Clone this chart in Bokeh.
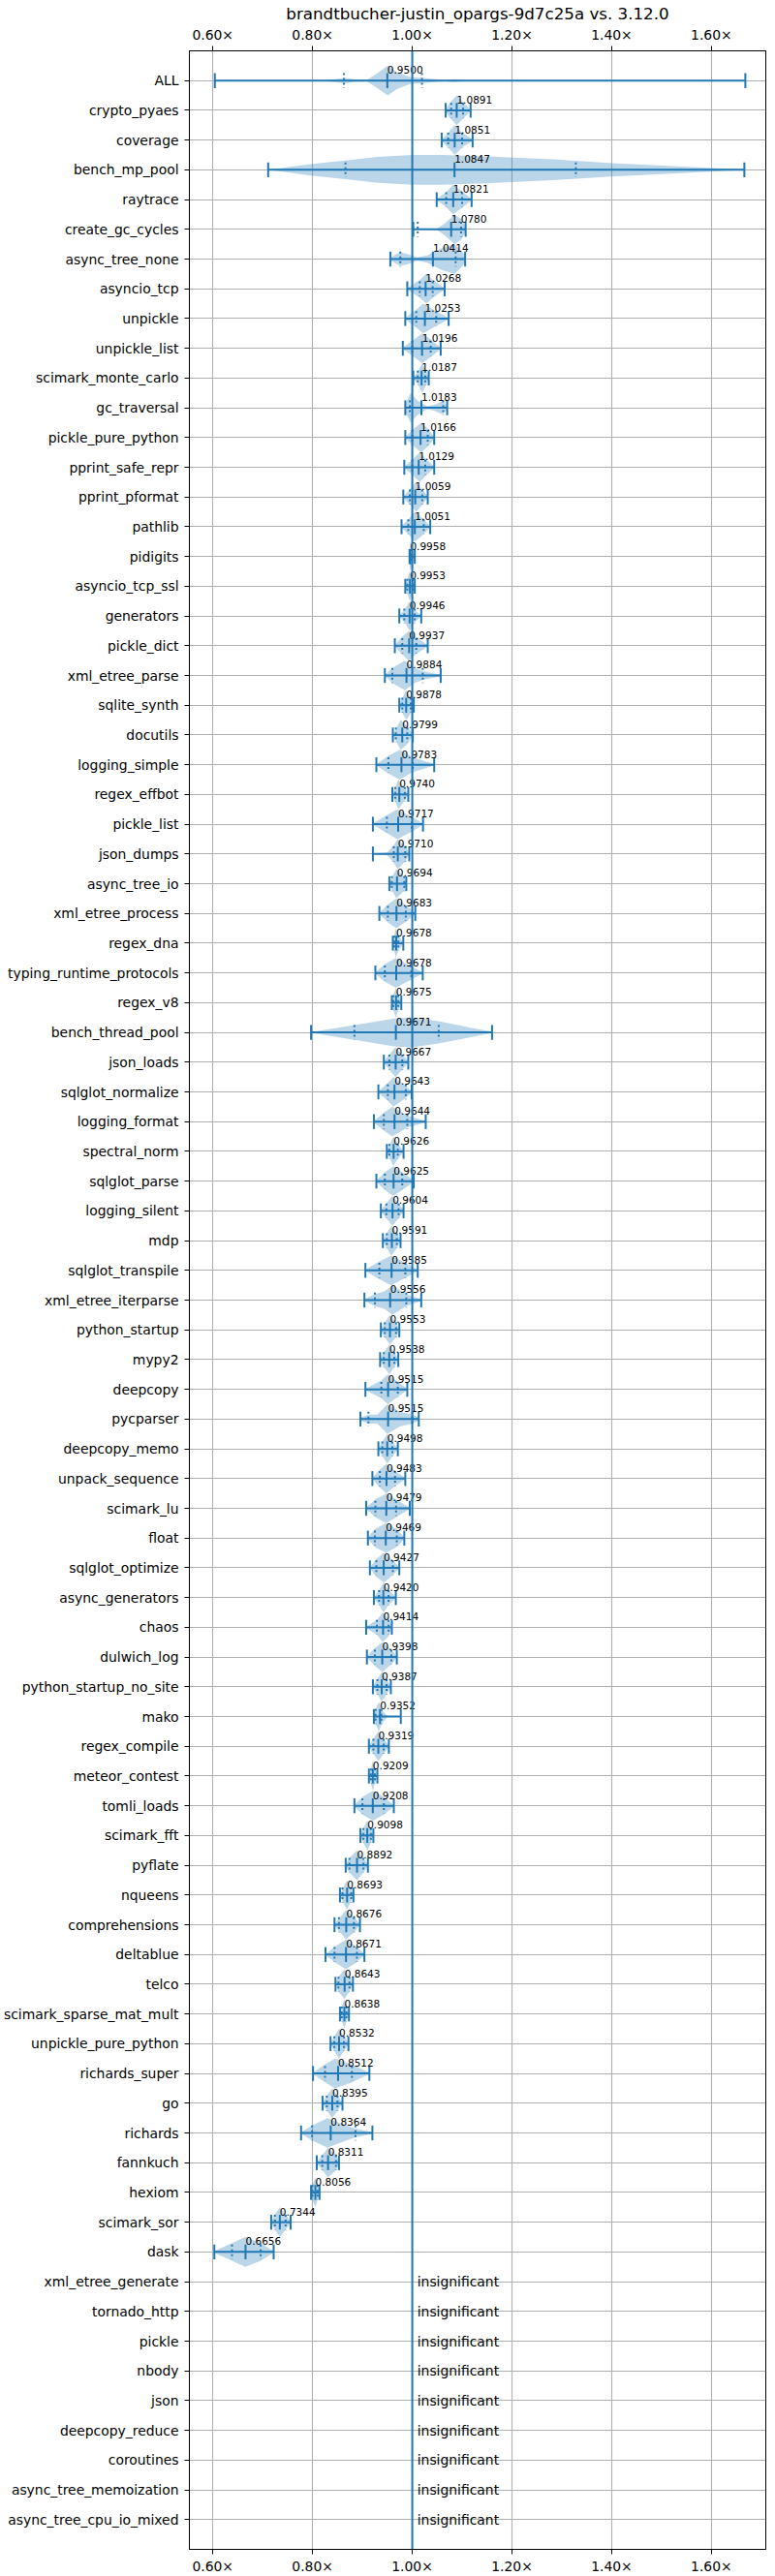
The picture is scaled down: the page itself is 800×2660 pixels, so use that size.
from bokeh.plotting import figure
from bokeh.models import ColumnDataSource, Range1d, LinearAxis, FixedTicker, Span
from bokeh.core.properties import value
from bokeh.embed import file_html
from bokeh.resources import INLINE

title = "brandtbucher-justin_opargs-9d7c25a vs. 3.12.0"

benchmarks = [
    "ALL", "crypto_pyaes", "coverage", "bench_mp_pool", "raytrace", "create_gc_cycles",
    "async_tree_none", "asyncio_tcp", "unpickle", "unpickle_list", "scimark_monte_carlo",
    "gc_traversal", "pickle_pure_python", "pprint_safe_repr", "pprint_pformat", "pathlib",
    "pidigits", "asyncio_tcp_ssl", "generators", "pickle_dict", "xml_etree_parse",
    "sqlite_synth", "docutils", "logging_simple", "regex_effbot", "pickle_list", "json_dumps",
    "async_tree_io", "xml_etree_process", "regex_dna", "typing_runtime_protocols", "regex_v8",
    "bench_thread_pool", "json_loads", "sqlglot_normalize", "logging_format", "spectral_norm",
    "sqlglot_parse", "logging_silent", "mdp", "sqlglot_transpile", "xml_etree_iterparse",
    "python_startup", "mypy2", "deepcopy", "pycparser", "deepcopy_memo", "unpack_sequence",
    "scimark_lu", "float", "sqlglot_optimize", "async_generators", "chaos", "dulwich_log",
    "python_startup_no_site", "mako", "regex_compile", "meteor_contest", "tomli_loads",
    "scimark_fft", "pyflate", "nqueens", "comprehensions", "deltablue", "telco",
    "scimark_sparse_mat_mult", "unpickle_pure_python", "richards_super", "go", "richards",
    "fannkuch", "hexiom", "scimark_sor", "dask",
]

insignificant = [
    "xml_etree_generate", "tornado_http", "pickle", "nbody", "json", "deepcopy_reduce",
    "coroutines", "async_tree_memoization", "async_tree_cpu_io_mixed",
]

medians = [
    0.9500, 1.0891, 1.0851, 1.0847, 1.0821, 1.0780, 1.0414, 1.0268, 1.0253, 1.0196, 1.0187,
    1.0183, 1.0166, 1.0129, 1.0059, 1.0051, 0.9958, 0.9953, 0.9946, 0.9937, 0.9884, 0.9878,
    0.9799, 0.9783, 0.9740, 0.9717, 0.9710, 0.9694, 0.9683, 0.9678, 0.9678, 0.9675, 0.9671,
    0.9667, 0.9643, 0.9644, 0.9626, 0.9625, 0.9604, 0.9591, 0.9585, 0.9556, 0.9553, 0.9538,
    0.9515, 0.9515, 0.9498, 0.9483, 0.9479, 0.9469, 0.9427, 0.9420, 0.9414, 0.9398, 0.9387,
    0.9352, 0.9319, 0.9209, 0.9208, 0.9098, 0.8892, 0.8693, 0.8676, 0.8671, 0.8643, 0.8638,
    0.8532, 0.8512, 0.8395, 0.8364, 0.8311, 0.8056, 0.7344, 0.6656,
]

mins = [
    0.604, 1.067, 1.059, 0.711, 1.049, 1.002, 0.956, 0.990, 0.986, 0.981, 1.002,
    0.986, 0.986, 0.984, 0.982, 0.9785, 0.9945, 0.986, 0.974, 0.965, 0.945, 0.974,
    0.961, 0.928, 0.960, 0.921, 0.921, 0.954, 0.934, 0.961, 0.926, 0.959, 0.797,
    0.943, 0.932, 0.923, 0.949, 0.928, 0.937, 0.941, 0.906, 0.904, 0.937, 0.9355,
    0.906, 0.896, 0.932, 0.920, 0.9075, 0.911, 0.915, 0.923, 0.9075, 0.909, 0.921,
    0.923, 0.913, 0.913, 0.884, 0.896, 0.8665, 0.855, 0.844, 0.826, 0.846, 0.855,
    0.836, 0.801, 0.820, 0.777, 0.8085, 0.797, 0.717, 0.603,
]

maxs = [
    1.668, 1.117, 1.121, 1.666, 1.119, 1.107, 1.106, 1.065, 1.073, 1.057, 1.033,
    1.070, 1.044, 1.044, 1.031, 1.036, 1.005, 1.005, 1.018, 1.031, 1.057, 1.003,
    1.001, 1.044, 0.992, 1.0215, 0.994, 0.988, 1.006, 0.982, 1.021, 0.978, 1.160,
    0.992, 0.9987, 1.027, 0.9825, 1.003, 0.9825, 0.9765, 1.011, 1.018, 0.974, 0.972,
    0.990, 1.013, 0.971, 0.986, 0.995, 0.984, 0.974, 0.967, 0.959, 0.969, 0.957,
    0.977, 0.953, 0.930, 0.963, 0.922, 0.911, 0.882, 0.895, 0.904, 0.881, 0.873,
    0.872, 0.914, 0.860, 0.920, 0.853, 0.814, 0.756, 0.722,
]

q_low = [
    0.863, 1.078, 1.072, 0.866, 1.068, 1.011, 0.976, 1.015, 1.008, 1.000, 1.011,
    0.995, 1.000, 1.000, 0.995, 0.992, 0.9952, 0.990, 0.984, 0.980, 0.960, 0.980,
    0.967, 0.952, 0.966, 0.949, 0.963, 0.959, 0.951, 0.964, 0.945, 0.962, 0.884,
    0.954, 0.951, 0.943, 0.954, 0.945, 0.948, 0.949, 0.934, 0.925, 0.945, 0.943,
    0.938, 0.912, 0.940, 0.935, 0.926, 0.925, 0.928, 0.9335, 0.929, 0.925, 0.930,
    0.9265, 0.922, 0.917, 0.900, 0.902, 0.874, 0.860, 0.853, 0.844, 0.852, 0.8586,
    0.8437, 0.825, 0.8287, 0.799, 0.8195, 0.800, 0.7245, 0.6385,
]

q_high = [
    1.0195, 1.102, 1.100, 1.328, 1.100, 1.098, 1.087, 1.041, 1.048, 1.037, 1.026,
    1.062, 1.031, 1.026, 1.020, 1.023, 0.9975, 1.001, 1.005, 1.008, 1.021, 0.997,
    0.990, 1.001, 0.985, 0.999, 0.986, 0.984, 0.987, 0.972, 0.998, 0.972, 1.053,
    0.980, 0.987, 0.990, 0.971, 0.980, 0.9726, 0.969, 0.986, 0.988, 0.9675, 0.964,
    0.971, 1.000, 0.960, 0.9655, 0.9675, 0.969, 0.961, 0.9525, 0.9525, 0.958, 0.9485,
    0.938, 0.9427, 0.925, 0.943, 0.917, 0.902, 0.8775, 0.883, 0.889, 0.874, 0.8678,
    0.863, 0.879, 0.850, 0.886, 0.847, 0.810, 0.746, 0.696,
]

# violin outline per benchmark: (ratio, relative half width)
violins = [
    [(0.604, 0), (0.82, 0), (0.845, 0.1), (0.865, 0.18), (0.885, 0.08), (0.91, 0.06), (0.93, 0.5),
     (0.951, 1.0), (0.97, 0.55), (0.997, 0.22), (1.023, 0.17), (1.05, 0.08), (1.065, 0.05),
     (1.085, 0.1), (1.105, 0.04), (1.12, 0), (1.668, 0)],
    [(1.067, 0.1), (1.078, 0.6), (1.089, 1.0), (1.102, 0.55), (1.117, 0.05)],
    [(1.059, 0.05), (1.072, 0.5), (1.085, 1.0), (1.10, 0.5), (1.121, 0.05)],
    [(0.711, 0.0), (0.80, 0.4), (0.866, 0.62), (0.93, 0.87), (1.0, 1.0), (1.06, 1.0), (1.15, 0.9),
     (1.283, 0.7), (1.4, 0.45), (1.55, 0.2), (1.666, 0.02)],
    [(1.049, 0.05), (1.068, 0.5), (1.082, 1.0), (1.10, 0.55), (1.119, 0.05)],
    [(1.002, 0.03), (1.02, 0.02), (1.05, 0.05), (1.065, 0.4), (1.085, 1.0), (1.098, 0.7), (1.107, 0.2)],
    [(0.956, 0.1), (0.975, 0.45), (0.99, 0.35), (1.01, 0.12), (1.03, 0.25), (1.06, 0.75),
     (1.085, 1.0), (1.10, 0.5), (1.106, 0.2)],
    [(0.99, 0.05), (1.015, 0.6), (1.028, 1.0), (1.041, 0.6), (1.065, 0.05)],
    [(0.986, 0.05), (1.008, 0.6), (1.022, 1.0), (1.048, 0.5), (1.073, 0.05)],
    [(0.981, 0.05), (1.0, 0.5), (1.02, 1.0), (1.037, 0.6), (1.057, 0.05)],
    [(1.002, 0.05), (1.011, 0.4), (1.02, 1.0), (1.026, 0.6), (1.033, 0.1)],
    [(0.986, 0.3), (0.997, 1.0), (1.01, 0.5), (1.03, 0.1), (1.045, 0.2), (1.06, 0.45), (1.07, 0.15)],
    [(0.986, 0.05), (1.0, 0.5), (1.018, 1.0), (1.031, 0.6), (1.044, 0.05)],
    [(0.984, 0.05), (1.0, 0.5), (1.015, 1.0), (1.026, 0.6), (1.044, 0.05)],
    [(0.982, 0.05), (0.995, 0.5), (1.008, 1.0), (1.02, 0.5), (1.031, 0.05)],
    [(0.9785, 0.05), (0.992, 0.5), (1.005, 1.0), (1.023, 0.5), (1.036, 0.05)],
    [(0.9945, 0.3), (0.9958, 1.0), (1.0, 0.5), (1.005, 0.1)],
    [(0.986, 0.1), (0.99, 0.5), (0.995, 1.0), (1.001, 0.5), (1.005, 0.1)],
    [(0.974, 0.05), (0.984, 0.4), (0.995, 1.0), (1.005, 0.4), (1.018, 0.05)],
    [(0.965, 0.05), (0.98, 0.6), (0.993, 1.0), (1.008, 0.55), (1.031, 0.05)],
    [(0.945, 0.05), (0.96, 0.5), (0.985, 1.0), (1.005, 0.5), (1.021, 0.3), (1.057, 0.05)],
    [(0.974, 0.05), (0.98, 0.5), (0.988, 1.0), (0.997, 0.5), (1.003, 0.05)],
    [(0.961, 0.05), (0.967, 0.4), (0.977, 1.0), (0.99, 0.6), (1.001, 0.05)],
    [(0.928, 0.05), (0.952, 0.6), (0.975, 1.0), (1.001, 0.5), (1.044, 0.05)],
    [(0.96, 0.05), (0.966, 0.5), (0.972, 1.0), (0.985, 0.4), (0.992, 0.05)],
    [(0.921, 0.05), (0.949, 0.6), (0.97, 1.0), (0.999, 0.5), (1.0215, 0.05)],
    [(0.921, 0.02), (0.95, 0.1), (0.963, 0.6), (0.971, 1.0), (0.986, 0.5), (0.994, 0.05)],
    [(0.954, 0.1), (0.959, 0.4), (0.968, 1.0), (0.984, 0.45), (0.988, 0.1)],
    [(0.934, 0.05), (0.951, 0.6), (0.968, 1.0), (0.987, 0.55), (1.006, 0.05)],
    [(0.961, 0.1), (0.964, 0.5), (0.967, 1.0), (0.972, 0.5), (0.982, 0.05)],
    [(0.926, 0.05), (0.945, 0.6), (0.967, 1.0), (0.998, 0.45), (1.021, 0.05)],
    [(0.959, 0.1), (0.962, 0.5), (0.967, 1.0), (0.972, 0.5), (0.978, 0.1)],
    [(0.797, 0.02), (0.884, 0.5), (0.967, 0.95), (1.0, 1.0), (1.053, 0.75), (1.12, 0.3), (1.16, 0.05)],
    [(0.943, 0.05), (0.954, 0.5), (0.966, 1.0), (0.98, 0.5), (0.992, 0.05)],
    [(0.932, 0.05), (0.951, 0.6), (0.962, 1.0), (0.987, 0.4), (0.9987, 0.05)],
    [(0.923, 0.05), (0.943, 0.6), (0.96, 1.0), (0.99, 0.4), (1.027, 0.05)],
    [(0.949, 0.05), (0.954, 0.4), (0.962, 1.0), (0.971, 0.5), (0.9825, 0.05)],
    [(0.928, 0.05), (0.945, 0.6), (0.962, 1.0), (0.98, 0.6), (1.003, 0.05)],
    [(0.937, 0.05), (0.948, 0.5), (0.96, 1.0), (0.9726, 0.5), (0.9825, 0.05)],
    [(0.941, 0.05), (0.949, 0.5), (0.958, 1.0), (0.969, 0.5), (0.9765, 0.05)],
    [(0.906, 0.05), (0.934, 0.6), (0.958, 1.0), (0.986, 0.5), (1.011, 0.05)],
    [(0.904, 0.05), (0.925, 0.4), (0.945, 0.6), (0.96, 1.0), (0.988, 0.4), (1.018, 0.05)],
    [(0.937, 0.05), (0.945, 0.5), (0.955, 1.0), (0.9675, 0.5), (0.974, 0.05)],
    [(0.9355, 0.05), (0.943, 0.5), (0.954, 1.0), (0.964, 0.5), (0.972, 0.05)],
    [(0.906, 0.05), (0.938, 0.6), (0.951, 1.0), (0.971, 0.5), (0.99, 0.05)],
    [(0.896, 0.1), (0.912, 0.3), (0.93, 0.3), (0.95, 1.0), (0.975, 0.5), (1.0, 0.3), (1.013, 0.1)],
    [(0.932, 0.05), (0.94, 0.5), (0.95, 1.0), (0.96, 0.5), (0.971, 0.05)],
    [(0.92, 0.05), (0.935, 0.6), (0.948, 1.0), (0.9655, 0.5), (0.986, 0.05)],
    [(0.9075, 0.05), (0.926, 0.6), (0.948, 1.0), (0.9675, 0.6), (0.995, 0.05)],
    [(0.911, 0.05), (0.925, 0.6), (0.947, 1.0), (0.969, 0.6), (0.984, 0.05)],
    [(0.915, 0.05), (0.928, 0.6), (0.943, 1.0), (0.961, 0.5), (0.974, 0.05)],
    [(0.923, 0.05), (0.9335, 0.5), (0.942, 1.0), (0.9525, 0.5), (0.967, 0.05)],
    [(0.9075, 0.05), (0.929, 0.5), (0.941, 1.0), (0.9525, 0.6), (0.959, 0.1)],
    [(0.909, 0.05), (0.925, 0.6), (0.94, 1.0), (0.958, 0.5), (0.969, 0.05)],
    [(0.921, 0.05), (0.93, 0.5), (0.939, 1.0), (0.9485, 0.5), (0.957, 0.05)],
    [(0.923, 0.1), (0.9265, 0.5), (0.933, 1.0), (0.94, 0.4), (0.95, 0.05), (0.977, 0.0)],
    [(0.913, 0.05), (0.922, 0.5), (0.932, 1.0), (0.9427, 0.5), (0.953, 0.05)],
    [(0.913, 0.1), (0.917, 0.5), (0.921, 1.0), (0.925, 0.5), (0.93, 0.1)],
    [(0.884, 0.05), (0.9, 0.6), (0.921, 1.0), (0.943, 0.6), (0.963, 0.05)],
    [(0.896, 0.05), (0.902, 0.5), (0.91, 1.0), (0.917, 0.5), (0.922, 0.05)],
    [(0.8665, 0.05), (0.874, 0.5), (0.889, 1.0), (0.902, 0.5), (0.911, 0.05)],
    [(0.855, 0.05), (0.86, 0.4), (0.869, 1.0), (0.8775, 0.4), (0.882, 0.05)],
    [(0.844, 0.05), (0.853, 0.4), (0.867, 1.0), (0.883, 0.5), (0.895, 0.05)],
    [(0.826, 0.05), (0.844, 0.5), (0.867, 1.0), (0.889, 0.5), (0.904, 0.05)],
    [(0.846, 0.05), (0.852, 0.5), (0.864, 1.0), (0.874, 0.5), (0.881, 0.05)],
    [(0.855, 0.1), (0.8586, 0.5), (0.864, 1.0), (0.8678, 0.5), (0.873, 0.1)],
    [(0.836, 0.05), (0.8437, 0.5), (0.853, 1.0), (0.863, 0.5), (0.872, 0.05)],
    [(0.801, 0.05), (0.825, 0.6), (0.845, 1.0), (0.879, 0.6), (0.914, 0.05)],
    [(0.82, 0.05), (0.8287, 0.5), (0.8395, 1.0), (0.85, 0.5), (0.86, 0.05)],
    [(0.777, 0.05), (0.799, 0.5), (0.83, 1.0), (0.86, 0.6), (0.886, 0.3), (0.92, 0.05)],
    [(0.8085, 0.05), (0.8195, 0.5), (0.831, 1.0), (0.847, 0.5), (0.853, 0.1)],
    [(0.797, 0.1), (0.8, 0.5), (0.8056, 1.0), (0.81, 0.5), (0.814, 0.1)],
    [(0.717, 0.05), (0.7245, 0.5), (0.734, 1.0), (0.746, 0.5), (0.756, 0.05)],
    [(0.603, 0.05), (0.6385, 0.6), (0.665, 1.0), (0.696, 0.6), (0.722, 0.05)],
]

x_ticks = [0.6, 0.8, 1.0, 1.2, 1.4, 1.6]
x_tick_labels = ["0.60×", "0.80×", "1.00×", "1.20×", "1.40×", "1.60×"]
baseline = 1.0

BLUE = "#1f77b4"
FONT = "DejaVu Sans"
HALF = 0.5    # violin half width, in rows
CAP = 0.25    # half length of the bar ends

names = benchmarks + insignificant
rows = list(range(1, len(names) + 1))
sig_rows = rows[:len(benchmarks)]
insig_rows = rows[len(benchmarks):]

p = figure(
    frame_width=595, frame_height=2580,
    x_range=Range1d(0.553, 1.709), y_range=Range1d(len(names) + 1, 0),
    output_backend="svg", toolbar_location=None,
    min_border_left=187, min_border_right=2, min_border_top=40, min_border_bottom=24,
)
p.title.text = title
p.title.align = "center"
p.title.text_font = FONT
p.title.text_font_size = "16.7px"
p.title.text_font_style = "normal"
p.title.text_color = "black"
p.title.standoff = 2
p.outline_line_color = "black"
p.outline_line_width = 1
p.outline_line_alpha = 1.0
p.background_fill_color = "white"
p.border_fill_color = "white"

top_axis = LinearAxis()
p.add_layout(top_axis, "above")
for ax in (p.xaxis[0], p.xaxis[1]):
    ax.ticker = FixedTicker(ticks=x_ticks)
    ax.major_label_overrides = dict(zip(x_ticks, x_tick_labels))
for ax in list(p.xaxis) + list(p.yaxis):
    ax.major_label_text_font = FONT
    ax.major_label_text_font_size = "13.9px"
    ax.major_label_text_color = "black"
    ax.major_tick_in = 0
    ax.major_tick_out = 5
    ax.major_tick_line_color = "black"
    ax.minor_tick_line_color = None
    ax.axis_line_color = "black"
    ax.major_label_standoff = 4
p.yaxis.ticker = FixedTicker(ticks=rows)
p.yaxis.major_label_overrides = dict(zip(rows, names))
p.yaxis.major_label_standoff = 6

p.xgrid.ticker = FixedTicker(ticks=x_ticks)
for g in (p.xgrid, p.ygrid):
    g.grid_line_color = "#b0b0b0"
    g.grid_line_width = 1.1

# violins
vxs, vys = [], []
for row, shape in zip(sig_rows, violins):
    xs = [s[0] for s in shape]
    top = [row - s[1] * HALF for s in shape]
    bottom = [row + s[1] * HALF for s in shape]
    vxs.append(xs + xs[::-1])
    vys.append(top + bottom[::-1])
p.patches(vxs, vys, fill_color=BLUE, fill_alpha=0.3, line_color=None)

# min-max bars
p.segment(x0=mins, y0=sig_rows, x1=maxs, y1=sig_rows, line_color=BLUE, line_width=2)
ends = mins + maxs + medians
end_rows = sig_rows * 3
p.segment(x0=ends, y0=[r - CAP for r in end_rows], x1=ends, y1=[r + CAP for r in end_rows],
          line_color=BLUE, line_width=2)
qs = q_low + q_high
q_rows = sig_rows * 2
p.segment(x0=qs, y0=[r - CAP for r in q_rows], x1=qs, y1=[r + CAP for r in q_rows],
          line_color=BLUE, line_width=2, line_dash="2 3")

p.add_layout(Span(location=baseline, dimension="height", line_color=BLUE, line_width=2))

labels = ColumnDataSource(dict(x=medians, y=[r - 0.36 for r in sig_rows],
                               t=["%.4f" % m for m in medians]))
p.text(x="x", y="y", text="t", source=labels, text_font=value(FONT),
       text_font_size="10.5px", text_baseline="alphabetic", text_align="left", text_color="black")

p.text(x=[1.01] * len(insig_rows), y=insig_rows, text=["insignificant"] * len(insig_rows),
       text_font=value(FONT), text_font_size="13.9px", text_baseline="alphabetic",
       text_align="left", text_color="black")

open("out.html", "w").write(file_html(p, INLINE))
